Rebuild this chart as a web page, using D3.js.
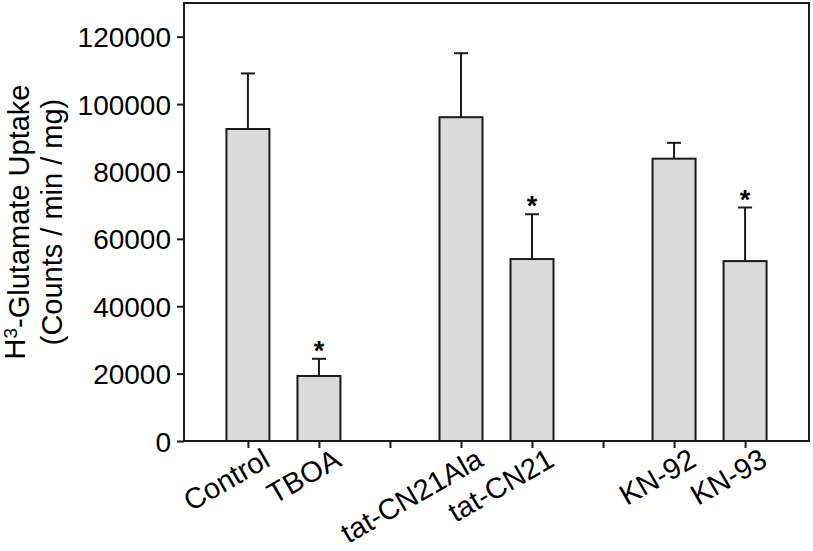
<!DOCTYPE html>
<html>
<head>
<meta charset="utf-8">
<script src="https://cdn.jsdelivr.net/npm/d3@7"></script>
<style>
  body { margin: 0; background: #fff; }
  svg { display: block; font-family: "Liberation Sans", Arial, sans-serif; }
</style>
</head>
<body>
<svg width="813" height="551"></svg>
<script>
// slots along the x axis; blank entries are the gaps between groups
var slots = ["Control", "TBOA", "", "tat-CN21Ala", "tat-CN21", " ", "KN-92", "KN-93"];
var categories = ["Control", "TBOA", "tat-CN21Ala", "tat-CN21", "KN-92", "KN-93"];
var means = [92600, 19300, 96100, 54000, 83800, 53400];
var errors = [16500, 5100, 19000, 13300, 4700, 15900];
var significant = [false, true, false, true, false, true];
var yTicks = [0, 20000, 40000, 60000, 80000, 100000, 120000];

var margin = { top: 3, right: 4, bottom: 110, left: 184 },
    width = 813 - margin.left - margin.right,
    height = 551 - margin.top - margin.bottom;

var svg = d3.select("svg")
    .append("g")
    .attr("transform", "translate(" + margin.left + "," + margin.top + ")");

var x = d3.scalePoint().domain(slots).range([0, width]).padding(0.9),
    y = d3.scaleLinear().domain([0, 130000]).range([height, 0]);

var barW = 43;

var data = categories.map(function(c, i) {
    return { name: c, mean: means[i], err: errors[i], sig: significant[i] };
});

// error bars (upper only)
var eb = svg.selectAll(".err")
    .data(data)
    .enter().append("g")
    .attr("class", "err")
    .attr("stroke", "#1a1a1a")
    .attr("stroke-width", 2);

eb.append("line")
    .attr("x1", function(d) { return x(d.name); })
    .attr("x2", function(d) { return x(d.name); })
    .attr("y1", function(d) { return y(d.mean); })
    .attr("y2", function(d) { return y(d.mean + d.err); });

eb.append("line")
    .attr("x1", function(d) { return x(d.name) - 7; })
    .attr("x2", function(d) { return x(d.name) + 7; })
    .attr("y1", function(d) { return y(d.mean + d.err); })
    .attr("y2", function(d) { return y(d.mean + d.err); });

// bars
svg.selectAll(".bar")
    .data(data)
    .enter().append("rect")
    .attr("class", "bar")
    .attr("x", function(d) { return x(d.name) - barW / 2; })
    .attr("y", function(d) { return y(d.mean); })
    .attr("width", barW)
    .attr("height", function(d) { return height - y(d.mean); })
    .attr("fill", "#dadada")
    .attr("stroke", "#1a1a1a")
    .attr("stroke-width", 2);

// asterisks
svg.selectAll(".star")
    .data(data.filter(function(d) { return d.sig; }))
    .enter().append("text")
    .attr("class", "star")
    .attr("x", function(d) { return x(d.name); })
    .attr("y", function(d) { return y(d.mean + d.err) + 1; })
    .attr("text-anchor", "middle")
    .style("font-size", "27px")
    .style("font-weight", "bold")
    .text("*");

// frame
svg.append("rect")
    .attr("width", width)
    .attr("height", height)
    .attr("fill", "none")
    .attr("stroke", "#1a1a1a")
    .attr("stroke-width", 2);

// y axis
var yAxis = svg.append("g")
    .call(d3.axisLeft(y).tickValues(yTicks).tickSize(7).tickPadding(6).tickFormat(d3.format("d")));
yAxis.select(".domain").remove();
yAxis.selectAll("line").attr("stroke", "#1a1a1a").attr("stroke-width", 2);
yAxis.selectAll("text")
    .attr("fill", "#000")
    .style("font-size", "28px")
    .attr("dy", "0.36em");

// x axis
var xAxis = svg.append("g")
    .attr("transform", "translate(0," + height + ")")
    .call(d3.axisBottom(x).tickSize(7).tickFormat(""));
xAxis.select(".domain").remove();
xAxis.selectAll("line").attr("stroke", "#1a1a1a").attr("stroke-width", 2);

svg.selectAll(".xlabel")
    .data(categories)
    .enter().append("text")
    .attr("class", "xlabel")
    .attr("text-anchor", "end")
    .attr("transform", function(d) {
        return "translate(" + (x(d) + 24) + "," + (height + 24) + ")rotate(-30)";
    })
    .style("font-size", "29px")
    .text(function(d) { return d; });

// y label
var yl = svg.append("text")
    .attr("transform", "translate(" + (-159) + "," + (height / 2) + ")rotate(-90)")
    .attr("text-anchor", "middle")
    .style("font-size", "29px");

var l1 = yl.append("tspan").attr("x", 0).attr("dy", 0);
l1.append("tspan").text("H");
l1.append("tspan").attr("dy", "-0.4em").style("font-size", "19px").text("3");
l1.append("tspan").attr("dy", "0.4em").text("-Glutamate Uptake");

yl.append("tspan").attr("x", 0).attr("dy", "1.15em").text("(Counts / min / mg)");
</script>
</body>
</html>
